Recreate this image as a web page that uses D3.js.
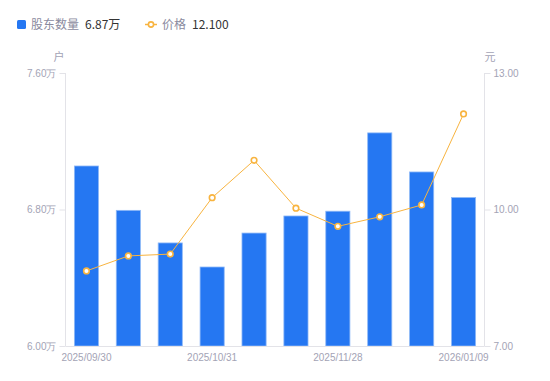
<!DOCTYPE html>
<html><head><meta charset="utf-8">
<script src="https://cdn.jsdelivr.net/npm/d3@7/dist/d3.min.js"></script>
<style>
body{margin:0;background:#fff;}
svg{display:block;font-family:"Noto Sans CJK SC","Noto Sans",sans-serif;}
</style></head>
<body><svg id="c" width="550" height="381"></svg>
<script>
const dates = ["2025/09/30","2025/10/10","2025/10/20","2025/10/31","2025/11/10","2025/11/20","2025/11/28","2025/12/10","2025/12/31","2026/01/09"];
const holders = [7.055, 6.795, 6.604, 6.463, 6.662, 6.762, 6.79, 7.249, 7.02, 6.87];
const prices = [8.65, 8.98, 9.02, 10.26, 11.08, 10.03, 9.63, 9.84, 10.10, 12.10];
const leftTicks = [6.00, 6.80, 7.60];
const rightTicks = [7, 10, 13];
const shownDates = ["2025/09/30","2025/10/31","2025/11/28","2026/01/09"];

const svg = d3.select("#c");
const L = 65.5, R = 484.5, T = 73, B = 346;
const x = d3.scaleBand().domain(dates).range([L, R]).paddingInner(0.4).paddingOuter(0.2);
const yL = d3.scaleLinear().domain([6.0, 7.6]).range([B, T]);
const yR = d3.scaleLinear().domain([7, 13]).range([B, T]);
const axisCol = "#e3e3e8", txtCol = "#a3a3b5";
const numFont = "'Liberation Sans', Arial, sans-serif";

const gl = svg.append("g").attr("transform", `translate(${L},0)`)
  .call(d3.axisLeft(yL).tickValues(leftTicks).tickSize(6).tickPadding(3).tickFormat(d => d3.format(".2f")(d) + "万"));
const gr = svg.append("g").attr("transform", `translate(${R},0)`)
  .call(d3.axisRight(yR).tickValues(rightTicks).tickSize(6).tickPadding(3).tickFormat(d3.format(".2f")));
[gl, gr].forEach(g => {
  g.select(".domain").remove();
  g.selectAll(".tick line").attr("stroke", axisCol);
  g.selectAll(".tick text").attr("fill", txtCol).style("font-size", "10px").style("font-family", numFont);
});
svg.append("line").attr("x1", L).attr("x2", L).attr("y1", T).attr("y2", B).attr("stroke", axisCol);
svg.append("line").attr("x1", R).attr("x2", R).attr("y1", T).attr("y2", B).attr("stroke", axisCol);

svg.append("g").selectAll("rect").data(holders).join("rect")
  .attr("x", (d, i) => x(dates[i]) + 0.5)
  .attr("width", x.bandwidth() - 1)
  .attr("y", d => yL(d))
  .attr("height", d => B - yL(d))
  .attr("fill", "#2577f2")
  .attr("stroke", "#8fb9f7").attr("stroke-width", 0.8);

svg.append("line").attr("x1", L).attr("x2", R).attr("y1", B + 0.5).attr("y2", B + 0.5).attr("stroke", axisCol);
const gb = svg.append("g").attr("transform", `translate(0,${B})`)
  .call(d3.axisBottom(x).tickValues(shownDates).tickSize(0).tickPadding(8));
gb.select(".domain").remove();
gb.selectAll(".tick text").attr("fill", txtCol).style("font-size", "10px").style("font-family", numFont);

const cx = (d, i) => x(dates[i]) + x.bandwidth() / 2;
svg.append("path").datum(prices)
  .attr("fill", "none").attr("stroke", "#f8b440").attr("stroke-width", 1)
  .attr("d", d3.line().x(cx).y(d => yR(d)));
svg.append("g").selectAll("circle").data(prices).join("circle")
  .attr("cx", cx).attr("cy", d => yR(d)).attr("r", 2.8)
  .attr("fill", "#fff").attr("stroke", "#f8b440").attr("stroke-width", 1.6);

svg.append("text").attr("x", 59).attr("y", 61).attr("text-anchor", "middle").attr("fill", txtCol).style("font-size", "11px").text("户");
svg.append("text").attr("x", 490).attr("y", 61).attr("text-anchor", "middle").attr("fill", txtCol).style("font-size", "11px").text("元");

const lg = svg.append("g");
lg.append("rect").attr("x", 17).attr("y", 20).attr("width", 9).attr("height", 9).attr("rx", 1.5).attr("fill", "#2577f2");
lg.append("text").attr("x", 31).attr("y", 29).attr("fill", "#8a8a9e").style("font-size", "12px").text("股东数量");
lg.append("text").attr("x", 85).attr("y", 29).attr("fill", "#333").style("font-size", "12px").text(d3.format(".2f")(holders[holders.length-1]) + "万");
lg.append("line").attr("x1", 145).attr("x2", 157).attr("y1", 24.5).attr("y2", 24.5).attr("stroke", "#f8b440").attr("stroke-width", 1.5);
lg.append("circle").attr("cx", 151).attr("cy", 24.5).attr("r", 2.6).attr("fill", "#fff").attr("stroke", "#f8b440").attr("stroke-width", 1.6);
lg.append("text").attr("x", 162).attr("y", 29).attr("fill", "#8a8a9e").style("font-size", "12px").text("价格");
lg.append("text").attr("x", 192).attr("y", 29).attr("fill", "#333").style("font-size", "12px").text(d3.format(".3f")(prices[prices.length-1]));
</script></body></html>
